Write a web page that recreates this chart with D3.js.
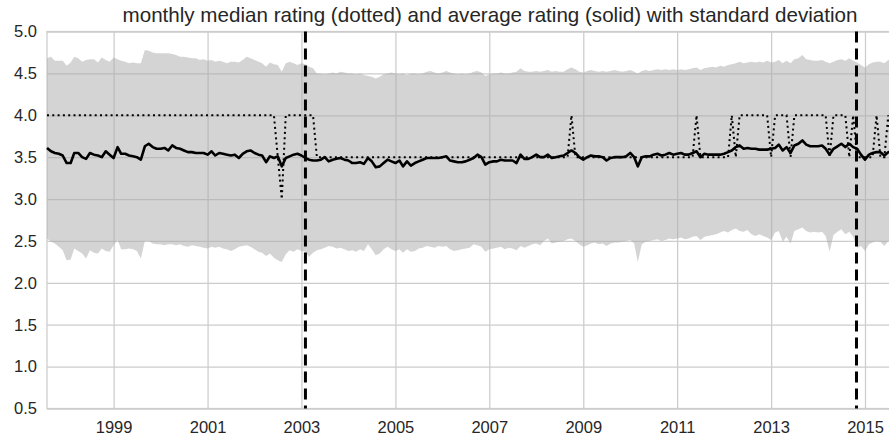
<!DOCTYPE html>
<html lang="en">
<head>
<meta charset="UTF-8">
<title>Monthly median and average rating</title>
<script src="https://d3js.org/d3.v7.min.js"></script>
<style>
  body { margin: 0; background: #fff; }
  svg { display: block; font-family: 'Liberation Sans', Arial, sans-serif; }
  .axis text { fill: #262626; font-size: 16.5px; }
  .axis .domain { display: none; }
  .axis line { stroke: #cccccc; stroke-width: 1.25px; }
</style>
</head>
<body>
<script>
// monthly values, first month = Aug 1997
const firstMonth = new Date(1997, 7, 1);

const meanRating = [
  3.61, 3.57, 3.55, 3.54, 3.52, 3.43, 3.43, 3.55, 3.55, 3.50, 3.48, 3.55,
  3.53, 3.52, 3.50, 3.57, 3.53, 3.49, 3.62, 3.54, 3.54, 3.52, 3.51, 3.50,
  3.47, 3.63, 3.66, 3.62, 3.60, 3.60, 3.61, 3.58, 3.64, 3.61, 3.60, 3.58,
  3.56, 3.56, 3.55, 3.55, 3.55, 3.53, 3.57, 3.52, 3.55, 3.54, 3.53, 3.52,
  3.53, 3.49, 3.54, 3.57, 3.58, 3.55, 3.53, 3.52, 3.44, 3.51, 3.49, 3.51,
  3.39, 3.49, 3.51, 3.53, 3.54, 3.52, 3.49, 3.47, 3.46, 3.46, 3.47, 3.50,
  3.45, 3.47, 3.48, 3.49, 3.47, 3.46, 3.43, 3.43, 3.44, 3.42, 3.49, 3.45,
  3.38, 3.39, 3.43, 3.47, 3.45, 3.43, 3.46, 3.39, 3.45, 3.40, 3.43, 3.45,
  3.47, 3.49, 3.49, 3.49, 3.49, 3.50, 3.51, 3.46, 3.45, 3.44, 3.44, 3.45,
  3.47, 3.49, 3.53, 3.50, 3.41, 3.44, 3.45, 3.45, 3.47, 3.46, 3.46, 3.46,
  3.43, 3.53, 3.48, 3.48, 3.50, 3.53, 3.50, 3.50, 3.53, 3.49, 3.50, 3.51,
  3.52, 3.55, 3.58, 3.55, 3.50, 3.47, 3.50, 3.52, 3.51, 3.51, 3.50, 3.46,
  3.49, 3.50, 3.50, 3.50, 3.51, 3.55, 3.50, 3.39, 3.50, 3.51, 3.51, 3.53,
  3.54, 3.52, 3.53, 3.55, 3.53, 3.54, 3.55, 3.53, 3.53, 3.55, 3.57, 3.50,
  3.54, 3.53, 3.53, 3.53, 3.53, 3.54, 3.56, 3.58, 3.62, 3.64, 3.60, 3.61,
  3.60, 3.60, 3.59, 3.59, 3.59, 3.60, 3.61, 3.65, 3.58, 3.62, 3.55, 3.64,
  3.66, 3.70, 3.65, 3.63, 3.63, 3.63, 3.64, 3.60, 3.53, 3.60, 3.63, 3.66,
  3.62, 3.66, 3.62, 3.60, 3.53, 3.47, 3.53, 3.55, 3.56, 3.56, 3.52, 3.56,
  3.55
];

const medianRating = [
  4.0, 4.0, 4.0, 4.0, 4.0, 4.0, 4.0, 4.0, 4.0, 4.0, 4.0, 4.0,
  4.0, 4.0, 4.0, 4.0, 4.0, 4.0, 4.0, 4.0, 4.0, 4.0, 4.0, 4.0,
  4.0, 4.0, 4.0, 4.0, 4.0, 4.0, 4.0, 4.0, 4.0, 4.0, 4.0, 4.0,
  4.0, 4.0, 4.0, 4.0, 4.0, 4.0, 4.0, 4.0, 4.0, 4.0, 4.0, 4.0,
  4.0, 4.0, 4.0, 4.0, 4.0, 4.0, 4.0, 4.0, 4.0, 4.0, 4.0, 3.5,
  3.0, 4.0, 4.0, 4.0, 4.0, 4.0, 4.0, 4.0, 4.0, 3.5, 3.5, 3.5,
  3.5, 3.5, 3.5, 3.5, 3.5, 3.5, 3.5, 3.5, 3.5, 3.5, 3.5, 3.5,
  3.5, 3.5, 3.5, 3.5, 3.5, 3.5, 3.5, 3.5, 3.5, 3.5, 3.5, 3.5,
  3.5, 3.5, 3.5, 3.5, 3.5, 3.5, 3.5, 3.5, 3.5, 3.5, 3.5, 3.5,
  3.5, 3.5, 3.5, 3.5, 3.5, 3.5, 3.5, 3.5, 3.5, 3.5, 3.5, 3.5,
  3.5, 3.5, 3.5, 3.5, 3.5, 3.5, 3.5, 3.5, 3.5, 3.5, 3.5, 3.5,
  3.5, 3.5, 4.0, 3.5, 3.5, 3.5, 3.5, 3.5, 3.5, 3.5, 3.5, 3.5,
  3.5, 3.5, 3.5, 3.5, 3.5, 3.5, 3.5, 3.5, 3.5, 3.5, 3.5, 3.5,
  3.5, 3.5, 3.5, 3.5, 3.5, 3.5, 3.5, 3.5, 3.5, 3.5, 4.0, 3.5,
  3.5, 3.5, 3.5, 3.5, 3.5, 3.5, 3.5, 4.0, 3.5, 4.0, 4.0, 4.0,
  4.0, 4.0, 4.0, 4.0, 4.0, 3.5, 4.0, 4.0, 4.0, 4.0, 3.5, 4.0,
  4.0, 4.0, 4.0, 4.0, 4.0, 4.0, 4.0, 4.0, 3.5, 4.0, 4.0, 4.0,
  4.0, 3.5, 4.0, 3.5, 3.5, 3.5, 3.5, 3.5, 4.0, 3.5, 3.5, 4.0,
  3.5
];

// mean + standard deviation
const upperRating = [
  4.68, 4.70, 4.65, 4.65, 4.65, 4.59, 4.63, 4.70, 4.68, 4.64, 4.66, 4.67,
  4.67, 4.63, 4.69, 4.66, 4.64, 4.69, 4.67, 4.65, 4.64, 4.62, 4.63, 4.62,
  4.62, 4.78, 4.77, 4.75, 4.74, 4.74, 4.74, 4.74, 4.73, 4.72, 4.70, 4.70,
  4.69, 4.68, 4.68, 4.66, 4.67, 4.65, 4.66, 4.64, 4.65, 4.64, 4.62, 4.64,
  4.64, 4.63, 4.66, 4.70, 4.68, 4.66, 4.64, 4.62, 4.58, 4.63, 4.61, 4.60,
  4.52, 4.62, 4.64, 4.62, 4.60, 4.62, 4.61, 4.58, 4.56, 4.50, 4.50, 4.49,
  4.50, 4.51, 4.50, 4.52, 4.51, 4.50, 4.50, 4.49, 4.50, 4.48, 4.47, 4.46,
  4.44, 4.46, 4.49, 4.50, 4.51, 4.50, 4.49, 4.50, 4.48, 4.50, 4.50, 4.49,
  4.50, 4.52, 4.53, 4.51, 4.50, 4.51, 4.53, 4.51, 4.50, 4.49, 4.50, 4.49,
  4.50, 4.52, 4.53, 4.51, 4.47, 4.49, 4.50, 4.50, 4.51, 4.50, 4.50, 4.51,
  4.52, 4.56, 4.53, 4.52, 4.52, 4.53, 4.52, 4.53, 4.54, 4.52, 4.53, 4.52,
  4.52, 4.55, 4.57, 4.55, 4.52, 4.51, 4.53, 4.54, 4.53, 4.52, 4.53, 4.52,
  4.53, 4.54, 4.53, 4.52, 4.53, 4.54, 4.52, 4.50, 4.53, 4.54, 4.53, 4.54,
  4.55, 4.54, 4.55, 4.54, 4.55, 4.54, 4.55, 4.54, 4.55, 4.56, 4.57, 4.54,
  4.56, 4.57, 4.58, 4.57, 4.59, 4.58, 4.60, 4.61, 4.62, 4.64, 4.62, 4.63,
  4.64, 4.63, 4.64, 4.63, 4.65, 4.63, 4.64, 4.66, 4.62, 4.65, 4.62, 4.67,
  4.68, 4.72, 4.67, 4.66, 4.65, 4.65, 4.66, 4.64, 4.62, 4.64, 4.66, 4.67,
  4.65, 4.68, 4.65, 4.63, 4.60, 4.57, 4.61, 4.63, 4.64, 4.64, 4.62, 4.66,
  4.65
];

// mean - standard deviation
const lowerRating = [
  2.53, 2.49, 2.47, 2.43, 2.39, 2.27, 2.28, 2.41, 2.38, 2.35, 2.29, 2.39,
  2.36, 2.35, 2.41, 2.38, 2.37, 2.45, 2.51, 2.40, 2.40, 2.41, 2.40, 2.38,
  2.29, 2.50, 2.50, 2.47, 2.46, 2.46, 2.45, 2.46, 2.46, 2.45, 2.46, 2.44,
  2.43, 2.45, 2.44, 2.43, 2.42, 2.41, 2.43, 2.42, 2.43, 2.41, 2.40, 2.38,
  2.40, 2.43, 2.44, 2.45, 2.43, 2.40, 2.37, 2.36, 2.32, 2.35, 2.30, 2.27,
  2.25, 2.34, 2.39, 2.37, 2.40, 2.38, 2.37, 2.31, 2.36, 2.39, 2.40, 2.42,
  2.44, 2.43, 2.41, 2.42, 2.40, 2.38, 2.39, 2.37, 2.40, 2.38, 2.46, 2.40,
  2.33, 2.35, 2.40, 2.43, 2.40, 2.38, 2.40, 2.36, 2.40, 2.37, 2.38, 2.41,
  2.42, 2.44, 2.43, 2.42, 2.44, 2.43, 2.44, 2.40, 2.38, 2.39, 2.40, 2.41,
  2.42, 2.46, 2.45, 2.43, 2.37, 2.40, 2.41, 2.42, 2.43, 2.40, 2.42, 2.41,
  2.39, 2.44, 2.42, 2.44, 2.46, 2.47, 2.45, 2.50, 2.53, 2.47, 2.48, 2.49,
  2.50, 2.52, 2.53, 2.50, 2.46, 2.43, 2.45, 2.47, 2.48, 2.46, 2.47, 2.44,
  2.47, 2.48, 2.48, 2.49, 2.50, 2.51, 2.47, 2.25, 2.46, 2.49, 2.50, 2.51,
  2.52, 2.50, 2.51, 2.53, 2.52, 2.53, 2.54, 2.52, 2.53, 2.55, 2.56, 2.51,
  2.55, 2.56, 2.57, 2.58, 2.60, 2.62, 2.60, 2.63, 2.65, 2.62, 2.61, 2.63,
  2.58, 2.56, 2.58, 2.56, 2.54, 2.51, 2.60, 2.62, 2.49, 2.55, 2.47, 2.62,
  2.64, 2.66, 2.62, 2.60, 2.61, 2.60, 2.61, 2.56, 2.37, 2.57, 2.61, 2.64,
  2.58, 2.61, 2.55, 2.42, 2.44, 2.38, 2.46, 2.48, 2.50, 2.49, 2.44, 2.50,
  2.50
];

const yearTicks = [1999, 2001, 2003, 2005, 2007, 2009, 2011, 2013, 2015];
const ratingTicks = [0.5, 1.0, 1.5, 2.0, 2.5, 3.0, 3.5, 4.0, 4.5, 5.0];
const markerDates = [new Date(2003, 1, 1), new Date(2014, 9, 27)];
const titleText = "monthly median rating (dotted) and average rating (solid) with standard deviation";

const W = 889, H = 437;
const margin = { top: 31.5, left: 47, bottom: 28.5 };
const plotRight = 933;                       // axes run past the picture edge
const plotH = H - margin.top - margin.bottom;

const data = meanRating.map((m, i) => ({
  date: new Date(firstMonth.getFullYear(), firstMonth.getMonth() + i, 1),
  mean: m,
  median: medianRating[i],
  hi: upperRating[i],
  lo: lowerRating[i]
}));

const x = d3.scaleTime()
  .domain([firstMonth, new Date(2016, 5, 13)])
  .range([margin.left, plotRight]);

const y = d3.scaleLinear()
  .domain([0.5, 5.0])
  .range([margin.top + plotH, margin.top]);

const svg = d3.select("body").append("svg")
  .attr("width", W)
  .attr("height", H);

// grid
svg.append("g")
  .attr("class", "axis")
  .attr("transform", `translate(0,${margin.top + plotH})`)
  .call(d3.axisBottom(x)
    .tickValues(yearTicks.map(yr => new Date(yr, 0, 1)))
    .tickSize(-plotH)
    .tickPadding(12.5)
    .tickFormat(d3.timeFormat("%Y")));

svg.append("g")
  .attr("class", "axis")
  .attr("transform", `translate(${margin.left},0)`)
  .call(d3.axisLeft(y)
    .tickValues(ratingTicks)
    .tickSize(-(plotRight - margin.left))
    .tickPadding(10)
    .tickFormat(d3.format(".1f")));

svg.append("rect")
  .attr("x", margin.left)
  .attr("y", margin.top)
  .attr("width", plotRight - margin.left)
  .attr("height", plotH)
  .attr("fill", "none")
  .attr("stroke", "#cccccc")
  .attr("stroke-width", 1.25);

// standard deviation band
svg.append("path")
  .datum(data)
  .attr("fill", "#a9a9a9")
  .attr("fill-opacity", 0.5)
  .attr("d", d3.area()
    .x(d => x(d.date))
    .y0(d => y(d.lo))
    .y1(d => y(d.hi)));

// median, dotted
svg.append("path")
  .datum(data)
  .attr("fill", "none")
  .attr("stroke", "#000")
  .attr("stroke-width", 2)
  .attr("stroke-dasharray", "2,3.3")
  .attr("d", d3.line().x(d => x(d.date)).y(d => y(d.median)));

// average, solid
svg.append("path")
  .datum(data)
  .attr("fill", "none")
  .attr("stroke", "#000")
  .attr("stroke-width", 2.6)
  .attr("stroke-linejoin", "round")
  .attr("d", d3.line().x(d => x(d.date)).y(d => y(d.mean)));

// dashed markers
svg.selectAll(".marker")
  .data(markerDates)
  .enter().append("line")
  .attr("class", "marker")
  .attr("x1", d => x(d))
  .attr("x2", d => x(d))
  .attr("y1", y(5.0))
  .attr("y2", y(0.5))
  .attr("stroke", "#000")
  .attr("stroke-width", 3)
  .attr("stroke-dasharray", "11,6");

svg.append("text")
  .attr("x", (margin.left + plotRight) / 2)
  .attr("y", 22)
  .attr("text-anchor", "middle")
  .attr("fill", "#262626")
  .style("font-size", "20.6px")
  .text(titleText);
</script>
</body>
</html>
